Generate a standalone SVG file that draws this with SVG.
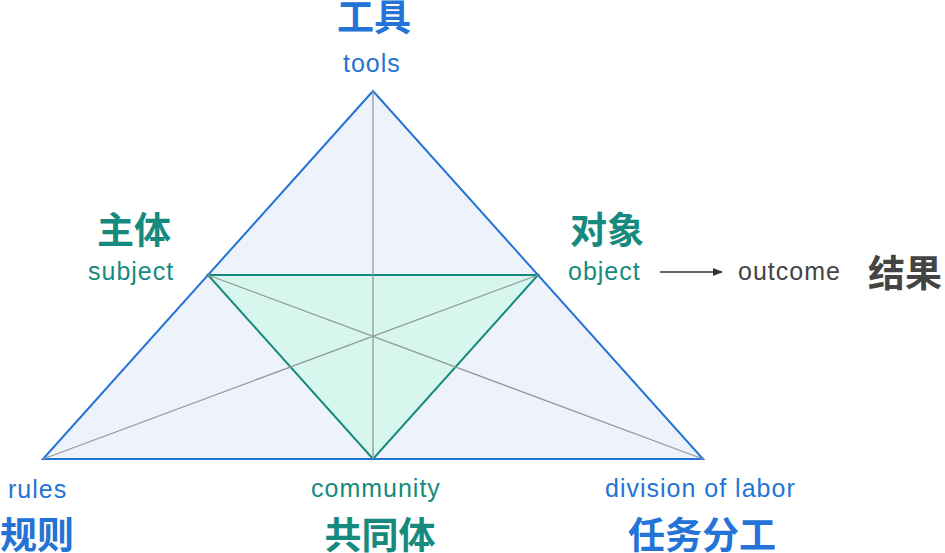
<svg xmlns="http://www.w3.org/2000/svg" width="945" height="553" viewBox="0 0 945 553">
<defs>
<style>
.en{font-family:"Liberation Sans",Arial,sans-serif;font-size:25px;letter-spacing:1px}
.cj{font-family:"Noto Sans CJK SC","Noto Sans",sans-serif;font-size:37px;font-weight:bold}
.blue{fill:#2473d6}
.teal{fill:#168a7e}
.dark{fill:#444444}
.guide{stroke:#8f9a98;stroke-width:1.3;fill:none}
</style>
<marker id="ah" markerWidth="10" markerHeight="10" refX="9" refY="5" orient="auto" markerUnits="userSpaceOnUse">
<path d="M0,1 L10,5 L0,9 Z" fill="#333333"/>
</marker>
</defs>
<rect width="945" height="553" fill="#ffffff"/>
<g id="outer-triangle">
<polygon points="373,91 43,459 703,459" fill="#eef2fb" stroke="#2473d6" stroke-width="2" stroke-linejoin="miter"/>
</g>
<g id="inner-triangle">
<polygon points="208,275 538,275 373,459" fill="#d7f7ee" stroke="#168a7e" stroke-width="2"/>
</g>
<g id="connectors">
<line class="guide" x1="373" y1="91" x2="373" y2="459"/>
<line class="guide" x1="43" y1="459" x2="538" y2="275"/>
<line class="guide" x1="703" y1="459" x2="208" y2="275"/>
<line x1="660" y1="272" x2="722" y2="272" stroke="#333333" stroke-width="1.5" marker-end="url(#ah)"/>
</g>
<g id="tools">
<text class="cj blue" x="374" y="31" text-anchor="middle">工具</text>
<text class="en blue" x="343" y="72">tools</text>
</g>
<g id="subject">
<text class="cj teal" x="134" y="244" text-anchor="middle">主体</text>
<text class="en teal" x="88" y="280">subject</text>
</g>
<g id="object">
<text class="cj teal" x="607" y="244" text-anchor="middle">对象</text>
<text class="en teal" x="568" y="280">object</text>
</g>
<g id="outcome">
<text class="en dark" x="738" y="280">outcome</text>
<text class="cj dark" x="868" y="287">结果</text>
</g>
<g id="rules">
<text class="en blue" x="8" y="498">rules</text>
<text class="cj blue" x="0" y="549">规则</text>
</g>
<g id="community">
<text class="en teal" x="311" y="497">community</text>
<text class="cj teal" x="380" y="549" text-anchor="middle">共同体</text>
</g>
<g id="division-of-labor">
<text class="en blue" x="605" y="497">division of labor</text>
<text class="cj blue" x="702" y="549" text-anchor="middle">任务分工</text>
</g>
</svg>
